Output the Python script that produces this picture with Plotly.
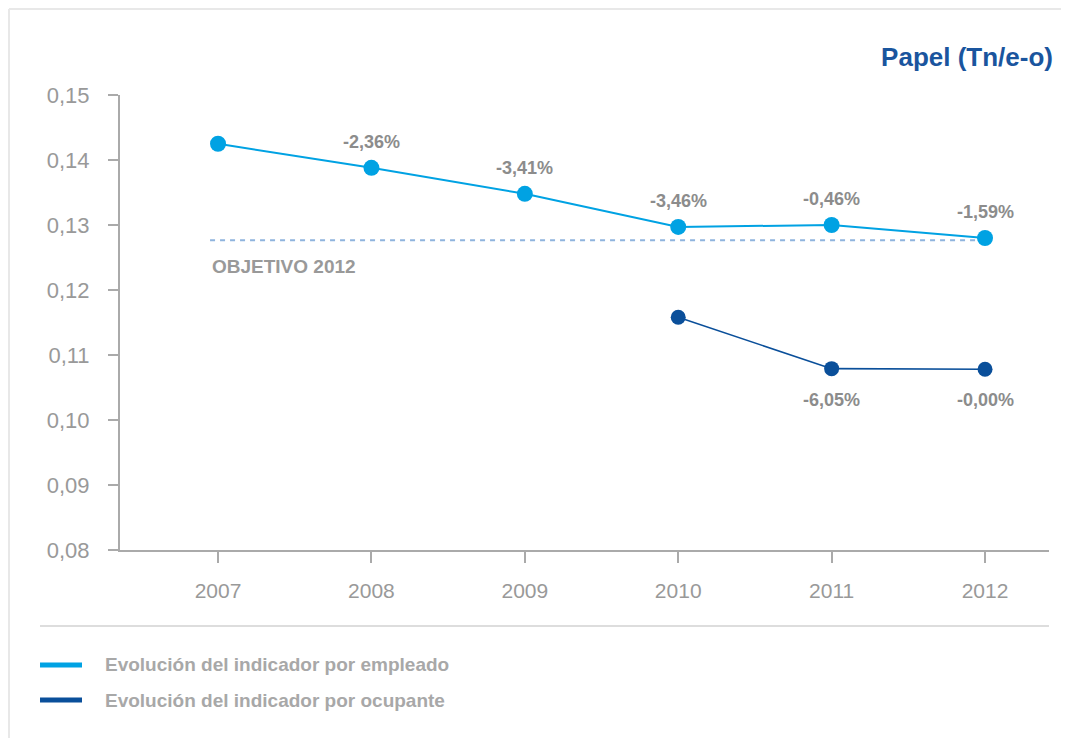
import plotly.graph_objects as go

years = [2007, 2008, 2009, 2010, 2011, 2012]
empleado = [0.1425, 0.1388, 0.1348, 0.1297, 0.1300, 0.1280]
empleado_labels = ["", "-2,36%", "-3,41%", "-3,46%", "-0,46%", "-1,59%"]
ocupante_years = [2010, 2011, 2012]
ocupante = [0.1158, 0.1079, 0.1078]
ocupante_labels = ["", "-6,05%", "-0,00%"]
objetivo = 0.12765
objetivo_label = "OBJETIVO 2012"
y_ticks = [0.08, 0.09, 0.10, 0.11, 0.12, 0.13, 0.14, 0.15]
y_ticktext = ["0,08", "0,09", "0,10", "0,11", "0,12", "0,13", "0,14", "0,15"]
title_text = "Papel (Tn/e-o)"
legend_names = ["Evolución del indicador por empleado", "Evolución del indicador por ocupante"]

C_LIGHT = "#00a2e3"
C_DARK = "#0a4f9a"
C_DASH = "#8fb4de"
FONT = "Liberation Sans, Arial, sans-serif"

W, H = 1061, 730  # page adds an 8px body margin

fig = go.Figure()

# target line
fig.add_trace(go.Scatter(
    x=[years[0] - 0.052, years[-1]], y=[objetivo, objetivo], mode="lines",
    line=dict(color=C_DASH, width=2, dash="5px,5px"), showlegend=False, hoverinfo="skip"))

fig.add_trace(go.Scatter(
    x=years, y=empleado, mode="lines+markers", name=legend_names[0],
    line=dict(color=C_LIGHT, width=2), marker=dict(color=C_LIGHT, size=16),
    showlegend=False))
fig.add_trace(go.Scatter(
    x=ocupante_years, y=ocupante, mode="lines+markers", name=legend_names[1],
    line=dict(color=C_DARK, width=1.6), marker=dict(color=C_DARK, size=15),
    showlegend=False))

annotations = []
for x, y, t in zip(years, empleado, empleado_labels):
    if t:
        annotations.append(dict(x=x, y=y, text=t, showarrow=False, yshift=26,
                                font=dict(family=FONT, size=18, color="#8c8c8c", weight="bold")))
for x, y, t in zip(ocupante_years, ocupante, ocupante_labels):
    if t:
        annotations.append(dict(x=x, y=y, text=t, showarrow=False, yshift=-31,
                                font=dict(family=FONT, size=18, color="#8c8c8c", weight="bold")))
annotations.append(dict(x=years[0] - 0.052, y=objetivo, text=objetivo_label, showarrow=False,
                        xanchor="left", yshift=-26,
                        font=dict(family=FONT, size=19, color="#999999", weight="bold")))

# manual legend (keys + labels)
legend_y = [-0.2527, -0.3297]
legend_cols = [C_LIGHT, C_DARK]
shapes = []
for name, col, ly in zip(legend_names, legend_cols, legend_y):
    shapes.append(dict(type="line", xref="paper", yref="paper", x0=-0.0861, x1=-0.0409,
                       y0=ly, y1=ly, line=dict(color=col, width=5)))
    annotations.append(dict(xref="paper", yref="paper", x=-0.0183, y=ly, text=name,
                            showarrow=False, xanchor="left", yanchor="middle",
                            font=dict(family=FONT, size=19, color="#a8a8a8", weight="bold")))

shapes += [
    # separator
    dict(type="line", xref="paper", yref="paper", x0=-0.0861, x1=1.0, y0=-0.167, y1=-0.167,
         line=dict(color="#dddddd", width=2)),
    # frame top and left
    dict(type="line", xref="paper", yref="paper", x0=-0.1195, x1=1.03, y0=1.1890, y1=1.1890,
         line=dict(color="#e8e8e8", width=2)),
    dict(type="line", xref="paper", yref="paper", x0=-0.1195, x1=-0.1195, y0=-0.42, y1=1.1890,
         line=dict(color="#e8e8e8", width=2)),
]

fig.update_layout(
    width=W, height=H,
    margin=dict(l=112, r=20, t=87, b=188),
    paper_bgcolor="white", plot_bgcolor="white",
    font=dict(family=FONT),
    title=dict(text=title_text, x=1045 / W, xanchor="right", y=1 - 49 / H, yanchor="middle",
               font=dict(family=FONT, size=26, color="#1a559e", weight="bold")),
    xaxis=dict(range=[2006.361, 2012.417], tickvals=years, ticktext=[str(y) for y in years],
               showgrid=False, zeroline=False, showline=True, linecolor="#aaaaaa", linewidth=2,
               ticks="outside", ticklen=11, tickwidth=2, tickcolor="#aaaaaa",
               tickfont=dict(family=FONT, size=21, color="#999999"), ticklabelstandoff=10),
    yaxis=dict(range=[0.08, 0.15], tickvals=y_ticks, ticktext=y_ticktext,
               showgrid=False, zeroline=False, showline=True, linecolor="#aaaaaa", linewidth=2,
               ticks="outside", ticklen=10, tickwidth=2, tickcolor="#aaaaaa",
               tickfont=dict(family=FONT, size=22, color="#999999"), ticklabelstandoff=14),
    showlegend=False,
    annotations=annotations,
    shapes=shapes,
    hovermode=False,
)

fig.write_html("out.html")
